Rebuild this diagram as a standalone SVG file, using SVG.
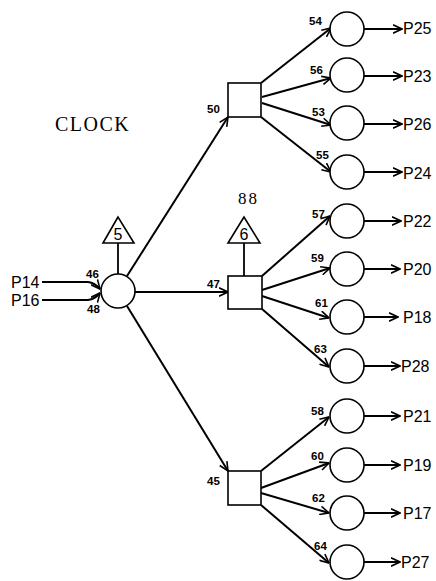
<svg xmlns="http://www.w3.org/2000/svg" width="436" height="581" viewBox="0 0 436 581">
<defs>
<marker id="ah" viewBox="0 0 10 10" refX="9.5" refY="5" markerWidth="10" markerHeight="10" markerUnits="userSpaceOnUse" orient="auto">
<path d="M0.5,0.8 L9.5,5 L0.5,9.2" fill="none" stroke="#000" stroke-width="1.6"/>
</marker>
<style>
.n{fill:#fff;stroke:#000;stroke-width:1.6}
.e{fill:none;stroke:#000;stroke-width:2;marker-end:url(#ah)}
.l{fill:none;stroke:#000;stroke-width:1.8}
.num{font-family:"Liberation Sans",Arial,sans-serif;font-weight:bold;font-size:11.5px;fill:#000}
.out{font-family:"Liberation Sans",Arial,sans-serif;font-size:16px;fill:#000}
.tri{font-family:"Liberation Sans",Arial,sans-serif;font-size:16px;fill:#000;text-anchor:middle}
.serif{font-family:"Liberation Serif","Times New Roman",serif;fill:#000}
</style>
</defs>
<rect width="436" height="581" fill="#fff"/>

<text class="serif" x="55" y="131" font-size="20" letter-spacing="1.5">CLOCK</text>
<text class="serif" x="238" y="204" font-size="17" letter-spacing="2">88</text>

<g id="connectors">
<path class="e" d="M42,282 L88,282 Q95,283 100,289"/>
<path class="e" d="M42,300 L88,300 Q95,299 100,293"/>
<line class="l" x1="118" y1="243" x2="118" y2="274"/>
<line class="l" x1="244" y1="243" x2="244" y2="276"/>
<line class="e" x1="127" y1="276" x2="228" y2="117"/>
<line class="e" x1="135" y1="292" x2="228" y2="292"/>
<line class="e" x1="127" y1="306" x2="228" y2="471"/>
<line class="e" x1="261" y1="83" x2="331" y2="28"/>
<line class="e" x1="262" y1="97" x2="331" y2="78"/>
<line class="e" x1="262" y1="103" x2="331" y2="125"/>
<line class="e" x1="261" y1="117" x2="331" y2="172"/>
<line class="e" x1="262" y1="276" x2="330" y2="216"/>
<line class="e" x1="262" y1="290" x2="330" y2="268"/>
<line class="e" x1="262" y1="296" x2="329" y2="318"/>
<line class="e" x1="262" y1="309" x2="329" y2="367"/>
<line class="e" x1="261" y1="471" x2="329" y2="417"/>
<line class="e" x1="261" y1="488" x2="329" y2="463"/>
<line class="e" x1="261" y1="493" x2="329" y2="513"/>
<line class="e" x1="261" y1="505" x2="329" y2="563"/>
<line class="e" x1="364" y1="29" x2="402" y2="29"/>
<line class="e" x1="364" y1="76" x2="402" y2="76"/>
<line class="e" x1="364" y1="124" x2="402" y2="124"/>
<line class="e" x1="364" y1="172" x2="402" y2="172"/>
<line class="e" x1="364" y1="221" x2="401" y2="221"/>
<line class="e" x1="364" y1="269" x2="400" y2="269"/>
<line class="e" x1="364" y1="317" x2="398" y2="317"/>
<line class="e" x1="364" y1="366" x2="400" y2="366"/>
<line class="e" x1="364" y1="416" x2="400" y2="416"/>
<line class="e" x1="364" y1="465" x2="400" y2="465"/>
<line class="e" x1="364" y1="513" x2="400" y2="513"/>
<line class="e" x1="364" y1="562" x2="400" y2="562"/>
</g>

<g id="in-P14"><text class="out" x="11" y="288">P14</text></g>
<g id="in-P16"><text class="out" x="11" y="306">P16</text></g>

<g id="clock-node">
<circle class="n" cx="118" cy="291" r="17"/>
<text class="num" x="86" y="278">46</text>
<text class="num" x="87" y="313">48</text>
</g>
<g id="tri5">
<polygon class="n" points="118,217 103,243 134,243"/>
<text class="tri" x="118" y="240">5</text>
</g>
<g id="tri6">
<polygon class="n" points="244,217 228,243 260,243"/>
<text class="tri" x="244" y="240">6</text>
</g>

<g id="box50"><rect class="n" x="228" y="83" width="33" height="34"/><text class="num" x="207" y="113">50</text></g>
<g id="box47"><rect class="n" x="228" y="276" width="34" height="33"/><text class="num" x="207" y="288">47</text></g>
<g id="box45"><rect class="n" x="228" y="471" width="33" height="34"/><text class="num" x="207" y="485">45</text></g>

<g id="c54"><circle class="n" cx="347" cy="29" r="17"/><text class="num" x="309" y="25">54</text><text class="out" x="403" y="34">P25</text></g>
<g id="c56"><circle class="n" cx="347" cy="75" r="17"/><text class="num" x="310" y="74">56</text><text class="out" x="403" y="82">P23</text></g>
<g id="c53"><circle class="n" cx="347" cy="123" r="17"/><text class="num" x="312" y="116">53</text><text class="out" x="403" y="130">P26</text></g>
<g id="c55"><circle class="n" cx="347" cy="172" r="17"/><text class="num" x="316" y="159">55</text><text class="out" x="403" y="179">P24</text></g>
<g id="c57"><circle class="n" cx="347" cy="221" r="17"/><text class="num" x="312" y="218">57</text><text class="out" x="403" y="227">P22</text></g>
<g id="c59"><circle class="n" cx="347" cy="269" r="17"/><text class="num" x="311" y="262">59</text><text class="out" x="403" y="275">P20</text></g>
<g id="c61"><circle class="n" cx="347" cy="317" r="17"/><text class="num" x="315" y="307">61</text><text class="out" x="403" y="323">P18</text></g>
<g id="c63"><circle class="n" cx="347" cy="366" r="17"/><text class="num" x="314" y="353">63</text><text class="out" x="401" y="372">P28</text></g>
<g id="c58"><circle class="n" cx="347" cy="416" r="17"/><text class="num" x="311" y="415">58</text><text class="out" x="403" y="422">P21</text></g>
<g id="c60"><circle class="n" cx="347" cy="465" r="17"/><text class="num" x="311" y="460">60</text><text class="out" x="403" y="471">P19</text></g>
<g id="c62"><circle class="n" cx="347" cy="513" r="17"/><text class="num" x="312" y="502">62</text><text class="out" x="403" y="519">P17</text></g>
<g id="c64"><circle class="n" cx="347" cy="562" r="17"/><text class="num" x="314" y="550">64</text><text class="out" x="401" y="568">P27</text></g>
</svg>
